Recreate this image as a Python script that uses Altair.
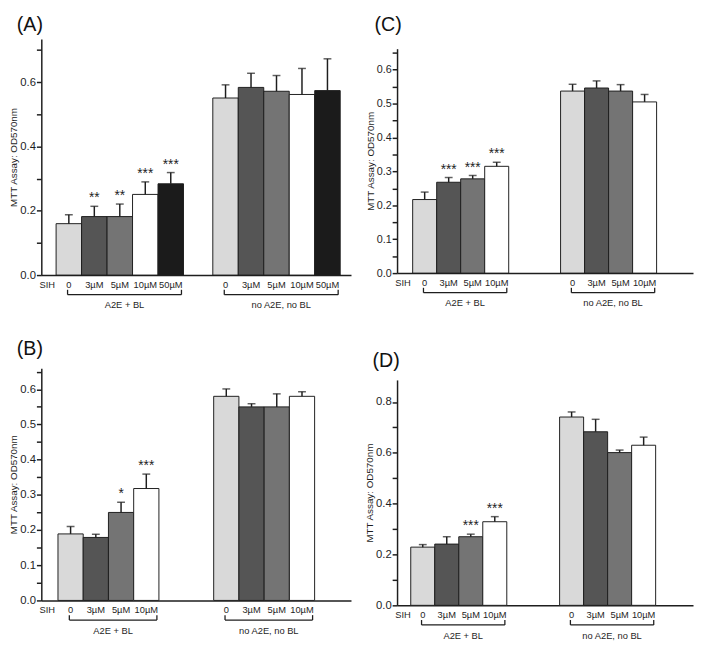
import altair as alt
import pandas as pd

FONT = "Liberation Sans"
INK = "#1e1e1e"

# ---------------- data ----------------
conc5 = ["0", "3µM", "5µM", "10µM", "50µM"]
conc4 = ["0", "3µM", "5µM", "10µM"]
bar_colors = ["#d9d9d9", "#555555", "#747474", "#ffffff", "#1b1b1b"]
group_names = ["A2E + BL", "no A2E, no BL"]
y_title = "MTT Assay: OD570nm"
panel_names = ["(A)", "(B)", "(C)", "(D)"]

# Panel A
a_bl_mean = [0.16, 0.182, 0.182, 0.251, 0.284]
a_bl_err = [0.028, 0.032, 0.039, 0.039, 0.035]
a_ctrl_mean = [0.551, 0.584, 0.572, 0.562, 0.574]
a_ctrl_err = [0.041, 0.044, 0.049, 0.081, 0.099]
a_sig = ["", "**", "**", "***", "***"]
a_ticks = [0.0, 0.1, 0.2, 0.3, 0.4, 0.5, 0.6, 0.7]

# Panel B
b_bl_mean = [0.189, 0.179, 0.25, 0.318]
b_bl_err = [0.021, 0.009, 0.029, 0.041]
b_ctrl_mean = [0.58, 0.55, 0.55, 0.58]
b_ctrl_err = [0.021, 0.009, 0.037, 0.013]
b_sig = ["", "", "*", "***"]
b_ticks = [0.0, 0.05, 0.1, 0.15, 0.2, 0.25, 0.3, 0.35, 0.4, 0.45, 0.5, 0.55, 0.6, 0.65]

# Panel C
c_bl_mean = [0.217, 0.268, 0.278, 0.315]
c_bl_err = [0.022, 0.014, 0.010, 0.012]
c_ctrl_mean = [0.537, 0.546, 0.537, 0.505]
c_ctrl_err = [0.020, 0.021, 0.019, 0.022]
c_sig = ["", "***", "***", "***"]
c_ticks = [0.0, 0.05, 0.1, 0.15, 0.2, 0.25, 0.3, 0.35, 0.4, 0.45, 0.5, 0.55, 0.6, 0.65]

# Panel D
d_bl_mean = [0.229, 0.241, 0.27, 0.329]
d_bl_err = [0.010, 0.029, 0.010, 0.020]
d_ctrl_mean = [0.741, 0.683, 0.601, 0.630]
d_ctrl_err = [0.020, 0.049, 0.010, 0.032]
d_sig = ["", "", "***", "***"]
d_ticks = [0.0, 0.1, 0.2, 0.3, 0.4, 0.5, 0.6, 0.7, 0.8]


# ---------------- layout helpers ----------------
def panel(name, conc, bl_mean, bl_err, ctrl_mean, ctrl_err, sig, ticks, lay):
    n = len(conc)
    rows = []
    for g, (means, errs) in enumerate([(bl_mean, bl_err), (ctrl_mean, ctrl_err)]):
        for i in range(n):
            x0 = lay["left"] + g * (n + lay["gap"]) + i
            rows.append(dict(group=group_names[g], conc=conc[i], x0=x0, x1=x0 + 1,
                             xc=x0 + 0.5, mean=means[i], top=means[i] + errs[i],
                             sig=sig[i] if g == 0 else ""))
    df = pd.DataFrame(rows)
    br = []
    for g in range(2):
        s = lay["left"] + g * (n + lay["gap"])
        xs, xe = s + 0.45, s + n - 0.08
        br.append(dict(group=group_names[g], xs=xs, xe=xe, xm=(xs + xe) / 2))
    bdf = pd.DataFrame(br)

    W, H, z = lay["width"], lay["height"], lay["zero"]
    xsc = alt.Scale(domain=[0, W / lay["w"]], nice=False, zero=False)
    ysc = alt.Scale(domain=[0, lay["ytop"]], range=[z, lay["toppx"]], nice=False)

    lab_expr = ("(round(datum.value*100) %% %d == 0) ? format(datum.value, '.1f') : ''"
                % lay["labstep"])
    yaxis = alt.Axis(values=ticks, labelExpr=lab_expr, title=y_title, grid=False,
                     titleFont=FONT, titleFontSize=10, titleFontWeight="normal",
                     titleColor=INK, labelFont=FONT, labelFontSize=lay["labfs"],
                     labelColor=INK, tickSize=5, tickWidth=1.5, tickColor=INK,
                     domainColor=INK, domainWidth=1.5, labelPadding=1, titlePadding=1,
                     labelFlush=False)
    xaxis = alt.Axis(labels=False, ticks=False, title=None, grid=False,
                     domainColor=INK, domainWidth=1.5)

    def X(f):
        return alt.X(f, scale=xsc, axis=xaxis)

    def Y(f):
        return alt.Y(f, scale=ysc, axis=yaxis, stack=None)

    base = alt.Chart(df)
    bars = base.mark_bar(stroke=INK, strokeWidth=1).encode(
        x=X("x0:Q"), x2="x1:Q",
        y=Y("mean:Q"), y2=alt.datum(0),
        fill=alt.Fill("conc:N", scale=alt.Scale(domain=conc5, range=bar_colors), legend=None),
    )
    err = base.mark_rule(color=INK, strokeWidth=1.5).encode(
        x=X("xc:Q"), y=Y("mean:Q"), y2="top:Q")
    cap = base.mark_tick(orient="horizontal", size=8, thickness=1.5, color=INK).encode(
        x=X("xc:Q"), y=Y("top:Q"))
    stars = base.mark_text(font=FONT, fontSize=14, baseline="middle", dy=-8, color=INK).encode(
        x=X("xc:Q"), y=Y("top:Q"), text="sig:N")
    labels = base.mark_text(font=FONT, fontSize=9.5, baseline="middle", color=INK).encode(
        x=X("xc:Q"), y=alt.value(z + 10), text="conc:N")
    sih = alt.Chart(pd.DataFrame({"t": ["SIH"]})).mark_text(
        font=FONT, fontSize=9.5, baseline="middle", color=INK).encode(
        x=alt.value(6), y=alt.value(z + 10), text="t:N")

    bb = alt.Chart(bdf)
    bh = bb.mark_rule(color=INK, strokeWidth=1.3).encode(
        x=X("xs:Q"), x2="xe:Q", y=alt.value(z + 20))
    bl = bb.mark_rule(color=INK, strokeWidth=1.3).encode(
        x=X("xs:Q"), y=alt.value(z + 15), y2=alt.value(z + 20))
    brr = bb.mark_rule(color=INK, strokeWidth=1.3).encode(
        x=X("xe:Q"), y=alt.value(z + 15), y2=alt.value(z + 20))
    glab = bb.mark_text(font=FONT, fontSize=9.5, baseline="middle", color=INK).encode(
        x=X("xm:Q"), y=alt.value(z + 31), text="group:N")

    ptitle = alt.Chart(pd.DataFrame({"t": [name]})).mark_text(
        font=FONT, fontSize=20, align="left", baseline="top", color="#111").encode(
        x=alt.value(lay["tdx"]), y=alt.value(lay["ty"]), text="t:N")

    return alt.layer(bars, err, cap, stars, labels, sih, bh, bl, brr, glab, ptitle).properties(
        width=W, height=H)


lay_a = dict(width=316, height=241, w=26.0, left=0.58, gap=1.15, zero=241, toppx=0,
             ytop=0.735, labstep=20, labfs=11.5, ty=-24, tdx=-25)
lay_c = dict(width=302, height=239, w=24.5, left=0.65, gap=2.16, zero=239, toppx=10,
             ytop=0.662, labstep=10, labfs=11, ty=-24, tdx=-23)
lay_b = dict(width=316, height=237, w=25.75, left=0.66, gap=2.17, zero=237, toppx=0,
             ytop=0.66, labstep=10, labfs=11.5, ty=-29, tdx=-25)
lay_d = dict(width=302, height=242, w=24.5, left=0.57, gap=2.2, zero=242, toppx=12,
             ytop=0.887, labstep=20, labfs=11.5, ty=-17, tdx=-25)

pa = panel(panel_names[0], conc5, a_bl_mean, a_bl_err, a_ctrl_mean, a_ctrl_err, a_sig, a_ticks, lay_a)
pb = panel(panel_names[1], conc4, b_bl_mean, b_bl_err, b_ctrl_mean, b_ctrl_err, b_sig, b_ticks, lay_b)
pc = panel(panel_names[2], conc4, c_bl_mean, c_bl_err, c_ctrl_mean, c_ctrl_err, c_sig, c_ticks, lay_c)
pd_ = panel(panel_names[3], conc4, d_bl_mean, d_bl_err, d_ctrl_mean, d_ctrl_err, d_sig, d_ticks, lay_d)

chart = alt.concat(pa, pc, pb, pd_, columns=2, align="each",
                   spacing={"row": 29, "column": 12}).properties(
    padding=0, background="white").configure_view(stroke="transparent")

chart.save("out.html", embed_options={"renderer": "svg", "actions": False})
